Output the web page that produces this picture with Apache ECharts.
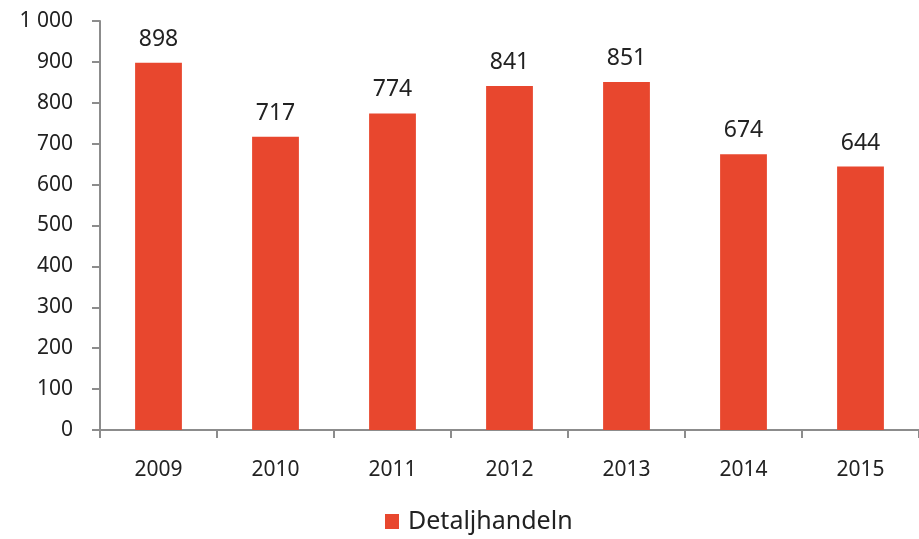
<!DOCTYPE html>
<html>
<head>
<meta charset="utf-8">
<script src="https://cdn.jsdelivr.net/npm/echarts@6/dist/echarts.min.js"></script>
<style>
  html, body { margin: 0; padding: 0; background: #fff; }
  #chart { width: 919px; height: 539px; }
</style>
</head>
<body>
<div id="chart"></div>
<script>
var years = ['2009', '2010', '2011', '2012', '2013', '2014', '2015'];
var retail = [898, 717, 774, 841, 851, 674, 644];
var seriesName = 'Detaljhandeln';

var myChart = echarts.init(document.getElementById('chart'));

var font = '"Noto Sans", "Open Sans", sans-serif';

var option = {
    animation: false,
    textStyle: { fontFamily: font },
    grid: { left: 100, top: 21, width: 826, height: 409, containLabel: false },
    legend: {
        data: [seriesName],
        bottom: 0,
        left: 380,
        icon: 'rect',
        itemWidth: 14,
        itemHeight: 15,
        itemGap: 10,
        textStyle: { fontSize: 25, color: '#222', fontFamily: font, padding: [0, 0, 0, 4] }
    },
    xAxis: {
        type: 'category',
        data: years,
        axisLine: { lineStyle: { color: '#8c8c8c', width: 2 } },
        axisTick: { show: true, length: 8, lineStyle: { color: '#8c8c8c', width: 2 } },
        axisLabel: { fontSize: 21, color: '#222', margin: 30 }
    },
    yAxis: {
        type: 'value',
        min: 0,
        max: 1000,
        interval: 100,
        splitLine: { show: false },
        axisLine: { show: true, lineStyle: { color: '#8c8c8c', width: 2 } },
        axisTick: { show: true, length: 8, lineStyle: { color: '#8c8c8c', width: 2 } },
        axisLabel: {
            fontSize: 21,
            color: '#222',
            margin: 27,
            formatter: function (v) { return v >= 1000 ? '1 000' : String(v); }
        }
    },
    series: [{
        name: seriesName,
        type: 'bar',
        data: retail,
        barWidth: '40%',
        itemStyle: { color: '#E8472E' },
        label: {
            show: true,
            position: 'top',
            distance: 12,
            fontSize: 23,
            color: '#222'
        }
    }]
};

myChart.setOption(option);
</script>
</body>
</html>
